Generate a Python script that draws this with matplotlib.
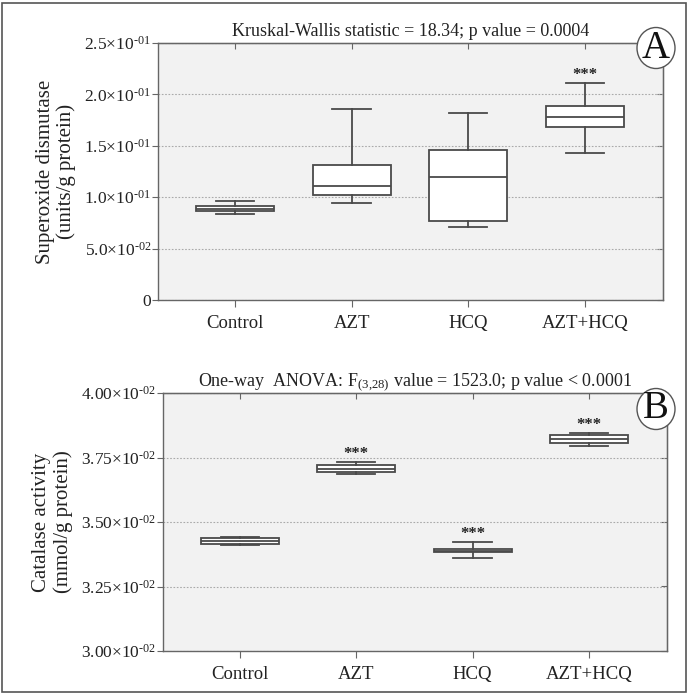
import matplotlib
matplotlib.use("Agg")
import matplotlib.pyplot as plt
from matplotlib.patches import Ellipse, Rectangle

# Nhóm điều trị
groups = ["Control", "AZT", "HCQ", "AZT+HCQ"]

# Panel A: Superoxide dismutase (units/g protein)
sod_whislo = [0.0835, 0.0939, 0.0709, 0.1431]
sod_q1 = [0.0861, 0.1026, 0.0771, 0.1680]
sod_med = [0.0887, 0.1111, 0.1194, 0.1783]
sod_q3 = [0.0917, 0.1317, 0.1460, 0.1887]
sod_whishi = [0.0965, 0.1854, 0.1819, 0.2114]
sod_sig = ["", "", "", "***"]
sod_ticks = [0, 0.05, 0.10, 0.15, 0.20, 0.25]
sod_ticklabels = ["0", "5.0×10$^{‐02}$", "1.0×10$^{‐01}$", "1.5×10$^{‐01}$",
                  "2.0×10$^{‐01}$", "2.5×10$^{‐01}$"]

# Panel B: Catalase activity (mmol/g protein)
cat_whislo = [0.03410, 0.03686, 0.03360, 0.03794]
cat_q1 = [0.03413, 0.03692, 0.03382, 0.03805]
cat_med = [0.03425, 0.03707, 0.03389, 0.03822]
cat_q3 = [0.03437, 0.03721, 0.03395, 0.03837]
cat_whishi = [0.03440, 0.03731, 0.03422, 0.03844]
cat_sig = ["", "***", "***", "***"]
cat_ticks = [0.0300, 0.0325, 0.0350, 0.0375, 0.0400]
cat_ticklabels = ["3.00×10$^{‐02}$", "3.25×10$^{‐02}$", "3.50×10$^{‐02}$",
                  "3.75×10$^{‐02}$", "4.00×10$^{‐02}$"]

plt.rcParams["font.family"] = ["Liberation Serif", "DejaVu Serif"]
plt.rcParams["mathtext.fontset"] = "custom"
plt.rcParams["mathtext.rm"] = "Liberation Serif"
plt.rcParams["mathtext.default"] = "regular"

W, H = 689, 694
fig = plt.figure(figsize=(W / 100, H / 100), dpi=100)

edge = "#4a4a4a"


def draw_panel(rect, lo, q1, med, q3, hi, sig, ticks, ticklabels, ylim,
               title, ylabel):
    ax = fig.add_axes(rect)
    ax.set_facecolor("#f2f2f2")
    stats = []
    for i in range(len(groups)):
        stats.append(dict(whislo=lo[i], q1=q1[i], med=med[i], q3=q3[i],
                          whishi=hi[i], fliers=[], label=groups[i]))
    ax.bxp(stats, positions=range(len(groups)), widths=0.67, capwidths=0.33,
           showfliers=False, patch_artist=True,
           boxprops=dict(facecolor="white", edgecolor=edge, linewidth=1.3),
           medianprops=dict(color=edge, linewidth=1.3),
           whiskerprops=dict(color=edge, linewidth=1.3),
           capprops=dict(color=edge, linewidth=1.3))
    for i, s in enumerate(sig):
        if s:
            ax.annotate(s, (i, hi[i]), xytext=(0, 0), textcoords="offset points",
                        ha="center", va="bottom", fontsize=12, fontweight="bold",
                        color="#222222")
    ax.set_xlim(-0.66, 3.67)
    ax.set_ylim(*ylim)
    ax.set_yticks(ticks)
    ax.set_yticklabels(ticklabels)
    ax.set_xticks(range(len(groups)))
    ax.set_xticklabels(groups)
    ax.yaxis.grid(True, linestyle=(0, (1.5, 1.5)), color="#aaaaaa", linewidth=0.8)
    ax.set_axisbelow(True)
    for sp in ax.spines.values():
        sp.set_color("#666666")
        sp.set_linewidth(1.0)
    ax.tick_params(axis="y", labelsize=12.5, direction="out", length=4,
                   color="#666666", labelcolor="#222222", pad=1)
    ax.tick_params(axis="x", labelsize=13.5, direction="out", length=5,
                   color="#666666", labelcolor="#222222", pad=6)
    top = ax.secondary_xaxis("top")
    top.set_xticks(range(len(groups)))
    top.tick_params(direction="in", length=4, color="#666666", labeltop=False)
    right = ax.secondary_yaxis("right")
    right.set_yticks(ticks)
    right.tick_params(direction="in", length=4, color="#666666", labelright=False)
    ax.set_title(title, fontsize=13, pad=5, color="#222222")
    ax.set_ylabel(ylabel, fontsize=15, labelpad=6, color="#222222",
                  linespacing=1.1)
    return ax


draw_panel([158 / W, 1 - 300 / H, 505 / W, 257 / H],
           sod_whislo, sod_q1, sod_med, sod_q3, sod_whishi, sod_sig,
           sod_ticks, sod_ticklabels, (0, 0.25),
           "Kruskal-Wallis statistic = 18.34; p value = 0.0004",
           "Superoxide dismutase\n(units/g protein)")

draw_panel([163 / W, 1 - 651 / H, 504 / W, 258 / H],
           cat_whislo, cat_q1, cat_med, cat_q3, cat_whishi, cat_sig,
           cat_ticks, cat_ticklabels, (0.030, 0.040),
           "One-way  ANOVA: F$_{(3{,}28)}$ value = 1523.0; p value < 0.0001",
           "Catalase activity\n(mmol/g protein)")

# Nhãn panel trong hình tròn
for letter, cx, cy in [("A", 656, 48), ("B", 656, 409)]:
    fig.add_artist(Ellipse((cx / W, 1 - cy / H), 38 / W, 41 / H,
                           transform=fig.transFigure, facecolor="white",
                           edgecolor="#555555", linewidth=1.0, zorder=5))
    fig.text(cx / W, 1 - cy / H, letter, ha="center", va="center",
             fontsize=28, color="#111111", zorder=6)

# Khung viền ngoài
fig.add_artist(Rectangle((2 / W, 2 / H), (W - 5) / W, (H - 5) / H,
                         transform=fig.transFigure, fill=False,
                         edgecolor="#555555", linewidth=1.2))

fig.savefig("out.png", dpi=100)
